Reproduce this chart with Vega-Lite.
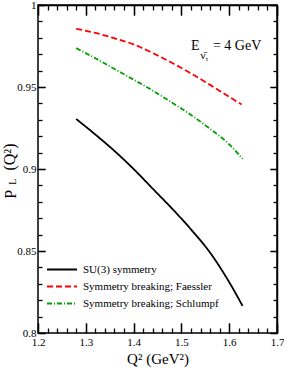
{
  "$schema": "https://vega.github.io/schema/vega-lite/v6.json",
  "width": 239,
  "height": 328,
  "autosize": {"type": "none"},
  "padding": {"left": 38, "top": 5, "right": 7, "bottom": 49},
  "background": "white",
  "config": {
    "view": {"stroke": "black", "strokeWidth": 1.5},
    "font": "Liberation Serif",
    "axis": {
      "domainColor": "black", "domainWidth": 1.5,
      "tickColor": "black", "tickWidth": 1.3,
      "labelColor": "black", "labelFont": "Liberation Serif", "labelFontSize": 11,
      "grid": false,
      "titleFont": "Liberation Serif", "titleFontWeight": "normal", "titleColor": "black"
    }
  },
  "datasets": {
    "curves": [
      {"series": "SU(3) symmetry", "x": 1.28, "y": 0.9305},
      {"series": "SU(3) symmetry", "x": 1.32, "y": 0.9210},
      {"series": "SU(3) symmetry", "x": 1.36, "y": 0.9110},
      {"series": "SU(3) symmetry", "x": 1.40, "y": 0.9000},
      {"series": "SU(3) symmetry", "x": 1.44, "y": 0.8880},
      {"series": "SU(3) symmetry", "x": 1.48, "y": 0.8760},
      {"series": "SU(3) symmetry", "x": 1.52, "y": 0.8632},
      {"series": "SU(3) symmetry", "x": 1.56, "y": 0.8490},
      {"series": "SU(3) symmetry", "x": 1.60, "y": 0.8310},
      {"series": "SU(3) symmetry", "x": 1.628, "y": 0.8165},
      {"series": "Symmetry breaking; Faessler", "x": 1.28, "y": 0.9855},
      {"series": "Symmetry breaking; Faessler", "x": 1.32, "y": 0.9830},
      {"series": "Symmetry breaking; Faessler", "x": 1.36, "y": 0.9797},
      {"series": "Symmetry breaking; Faessler", "x": 1.40, "y": 0.9760},
      {"series": "Symmetry breaking; Faessler", "x": 1.44, "y": 0.9707},
      {"series": "Symmetry breaking; Faessler", "x": 1.48, "y": 0.9648},
      {"series": "Symmetry breaking; Faessler", "x": 1.52, "y": 0.9583},
      {"series": "Symmetry breaking; Faessler", "x": 1.56, "y": 0.9513},
      {"series": "Symmetry breaking; Faessler", "x": 1.60, "y": 0.9440},
      {"series": "Symmetry breaking; Faessler", "x": 1.626, "y": 0.9394},
      {"series": "Symmetry breaking; Schlumpf", "x": 1.28, "y": 0.9737},
      {"series": "Symmetry breaking; Schlumpf", "x": 1.32, "y": 0.9675},
      {"series": "Symmetry breaking; Schlumpf", "x": 1.36, "y": 0.9610},
      {"series": "Symmetry breaking; Schlumpf", "x": 1.40, "y": 0.9545},
      {"series": "Symmetry breaking; Schlumpf", "x": 1.44, "y": 0.9478},
      {"series": "Symmetry breaking; Schlumpf", "x": 1.48, "y": 0.9405},
      {"series": "Symmetry breaking; Schlumpf", "x": 1.52, "y": 0.9330},
      {"series": "Symmetry breaking; Schlumpf", "x": 1.56, "y": 0.9245},
      {"series": "Symmetry breaking; Schlumpf", "x": 1.60, "y": 0.9150},
      {"series": "Symmetry breaking; Schlumpf", "x": 1.628, "y": 0.9062}
    ],
    "anno": [
      {"part": "main", "x": 1.520, "y": 0.9747, "t": "E"},
      {"part": "main", "x": 1.566, "y": 0.9747, "t": "= 4 GeV"},
      {"part": "sub", "x": 1.5452, "y": 0.9692, "t": "ν̄"},
      {"part": "subsub", "x": 1.5536, "y": 0.9668, "t": "τ"},
      {"part": "ytitle", "x": 1.1425, "y": 0.8845, "t": "P"},
      {"part": "ytitlesub", "x": 1.1470, "y": 0.8922, "t": "L"},
      {"part": "ytitle", "x": 1.1414, "y": 0.9073, "t": "(Q²)"}
    ]
  },
  "layer": [
    {
      "data": {"name": "curves"},
      "mark": {"type": "line", "strokeWidth": 1.8, "interpolate": "monotone"},
      "encoding": {
        "x": {
          "field": "x", "type": "quantitative",
          "scale": {"domain": [1.2, 1.7], "nice": false, "zero": false},
          "axis": {
            "orient": "bottom",
            "offset": -10,
            "domain": false,
            "values": [1.2, 1.3, 1.4, 1.5, 1.6, 1.7],
            "format": "~g",
            "tickSize": 10,
            "labelPadding": 3,
            "labelFlush": false,
            "labelOverlap": false,
            "title": "Q² (GeV²)",
            "titleFontSize": 15,
            "titlePadding": 4
          }
        },
        "y": {
          "field": "y", "type": "quantitative",
          "scale": {"domain": [0.8, 1.0], "nice": false, "zero": false},
          "axis": {
            "orient": "left",
            "offset": -7,
            "domain": false,
            "values": [0.8, 0.85, 0.9, 0.95, 1.0],
            "format": "~g",
            "tickSize": 7,
            "labelPadding": 2,
            "labelFlush": false,
            "labelOverlap": false,
            "title": null
          }
        },
        "color": {
          "field": "series", "type": "nominal",
          "scale": {"domain": ["SU(3) symmetry", "Symmetry breaking; Faessler", "Symmetry breaking; Schlumpf"], "range": ["black", "#ff0000", "#00a000"]},
          "legend": {"title": null, "orient": "none", "legendX": 8, "legendY": 256, "symbolType": "stroke", "symbolSize": 900, "symbolStrokeWidth": 2, "labelFont": "Liberation Serif", "labelFontSize": 11, "labelColor": "black", "clipHeight": 17, "rowPadding": 0, "padding": 0, "labelOffset": 5}
        },
        "strokeDash": {
          "field": "series", "type": "nominal",
          "scale": {"domain": ["SU(3) symmetry", "Symmetry breaking; Faessler", "Symmetry breaking; Schlumpf"], "range": [[1, 0], [6, 3], [5, 2, 1, 2]]},
          "legend": {"title": null, "orient": "none", "legendX": 8, "legendY": 256, "symbolType": "stroke", "symbolSize": 900, "symbolStrokeWidth": 2, "labelFont": "Liberation Serif", "labelFontSize": 11, "labelColor": "black", "clipHeight": 17, "rowPadding": 0, "padding": 0, "labelOffset": 5}
        }
      }
    },
    {
      "data": {"name": "anno"},
      "transform": [{"filter": "datum.part == 'main'"}],
      "mark": {"type": "text", "font": "Liberation Serif", "fontSize": 14, "align": "left", "baseline": "middle", "color": "black"},
      "encoding": {
        "x": {"field": "x", "type": "quantitative", "scale": {"domain": [1.2, 1.7], "nice": false, "zero": false},
          "axis": {"orient": "top", "offset": -10, "values": [1.2, 1.3, 1.4, 1.5, 1.6, 1.7], "ticks": true, "tickColor": "black", "tickSize": 10, "labelOpacity": 0, "labelFontSize": 1, "domain": false, "title": null}},
        "y": {"field": "y", "type": "quantitative", "scale": {"domain": [0.8, 1.0], "nice": false, "zero": false},
          "axis": {"orient": "right", "offset": -7, "values": [0.8, 0.85, 0.9, 0.95, 1.0], "ticks": true, "tickColor": "black", "tickSize": 7, "labelOpacity": 0, "labelFontSize": 1, "domain": false, "title": null}},
        "text": {"field": "t"}
      }
    },
    {
      "data": {"name": "anno"},
      "transform": [{"filter": "datum.part == 'sub'"}],
      "mark": {"type": "text", "font": "Liberation Serif", "fontSize": 11, "align": "center", "baseline": "middle", "color": "black"},
      "encoding": {
        "x": {"field": "x", "type": "quantitative", "scale": {"domain": [1.2, 1.7], "nice": false, "zero": false},
          "axis": {"orient": "bottom", "offset": -328, "values": [1.2, 1.3, 1.4, 1.5, 1.6, 1.7], "ticks": true, "tickColor": "black", "tickSize": 10, "labelOpacity": 0, "labelFontSize": 1, "title": null}},
        "y": {"field": "y", "type": "quantitative", "scale": {"domain": [0.8, 1.0], "nice": false, "zero": false},
          "axis": {"orient": "left", "offset": -239, "values": [0.8, 0.85, 0.9, 0.95, 1.0], "ticks": true, "tickColor": "black", "tickSize": 7, "labelOpacity": 0, "labelFontSize": 1, "title": null}},
        "text": {"field": "t"}
      }
    },
    {
      "data": {"name": "anno"},
      "transform": [{"filter": "datum.part == 'subsub'"}],
      "mark": {"type": "text", "font": "Liberation Serif", "fontSize": 7, "align": "center", "baseline": "middle", "color": "black"},
      "encoding": {
        "x": {"field": "x", "type": "quantitative", "scale": {"domain": [1.2, 1.7], "nice": false, "zero": false},
          "axis": {"orient": "top", "offset": -328, "values": [1.22,1.24,1.26,1.28,1.32,1.34,1.36,1.38,1.42,1.44,1.46,1.48,1.52,1.54,1.56,1.58,1.62,1.64,1.66,1.68], "ticks": true, "tickColor": "black", "tickSize": 5, "labelOpacity": 0, "labelFontSize": 1, "domainOpacity": 0, "title": null}},
        "y": {"field": "y", "type": "quantitative", "scale": {"domain": [0.8, 1.0], "nice": false, "zero": false},
          "axis": {"orient": "right", "offset": -239, "values": [0.81,0.82,0.83,0.84,0.86,0.87,0.88,0.89,0.91,0.92,0.93,0.94,0.96,0.97,0.98,0.99], "ticks": true, "tickColor": "black", "tickSize": 4, "labelOpacity": 0, "labelFontSize": 1, "domainOpacity": 0, "title": null}},
        "text": {"field": "t"}
      }
    },
    {
      "data": {"name": "anno"},
      "transform": [{"filter": "datum.part == 'ytitle'"}],
      "mark": {"type": "text", "font": "Liberation Serif", "fontSize": 16, "align": "center", "baseline": "middle", "angle": 270, "color": "black"},
      "encoding": {
        "x": {"field": "x", "type": "quantitative", "scale": {"domain": [1.2, 1.7], "nice": false, "zero": false},
          "axis": {"orient": "bottom", "offset": -328, "values": [1.22,1.24,1.26,1.28,1.32,1.34,1.36,1.38,1.42,1.44,1.46,1.48,1.52,1.54,1.56,1.58,1.62,1.64,1.66,1.68], "ticks": true, "tickColor": "black", "tickSize": 5, "labelOpacity": 0, "labelFontSize": 1, "domainOpacity": 0, "title": null}},
        "y": {"field": "y", "type": "quantitative", "scale": {"domain": [0.8, 1.0], "nice": false, "zero": false},
          "axis": {"orient": "left", "offset": -239, "values": [0.81,0.82,0.83,0.84,0.86,0.87,0.88,0.89,0.91,0.92,0.93,0.94,0.96,0.97,0.98,0.99], "ticks": true, "tickColor": "black", "tickSize": 4, "labelOpacity": 0, "labelFontSize": 1, "domainOpacity": 0, "title": null}},
        "text": {"field": "t"}
      }
    },
    {
      "data": {"name": "anno"},
      "transform": [{"filter": "datum.part == 'ytitlesub'"}],
      "mark": {"type": "text", "font": "Liberation Serif", "fontSize": 10, "align": "center", "baseline": "middle", "angle": 270, "color": "black"},
      "encoding": {
        "x": {"field": "x", "type": "quantitative", "scale": {"domain": [1.2, 1.7], "nice": false, "zero": false},
          "axis": {"orient": "top", "offset": -328, "values": [1.2, 1.3, 1.4, 1.5, 1.6, 1.7], "ticks": true, "tickColor": "black", "tickSize": 10, "labelOpacity": 0, "labelFontSize": 1, "domainOpacity": 0, "title": null}},
        "y": {"field": "y", "type": "quantitative", "scale": {"domain": [0.8, 1.0], "nice": false, "zero": false},
          "axis": {"orient": "right", "offset": -239, "values": [0.8, 0.85, 0.9, 0.95, 1.0], "ticks": true, "tickColor": "black", "tickSize": 7, "labelOpacity": 0, "labelFontSize": 1, "domainOpacity": 0, "title": null}},
        "text": {"field": "t"}
      }
    }
  ],
  "resolve": {"axis": {"x": "independent", "y": "independent"}}
}
